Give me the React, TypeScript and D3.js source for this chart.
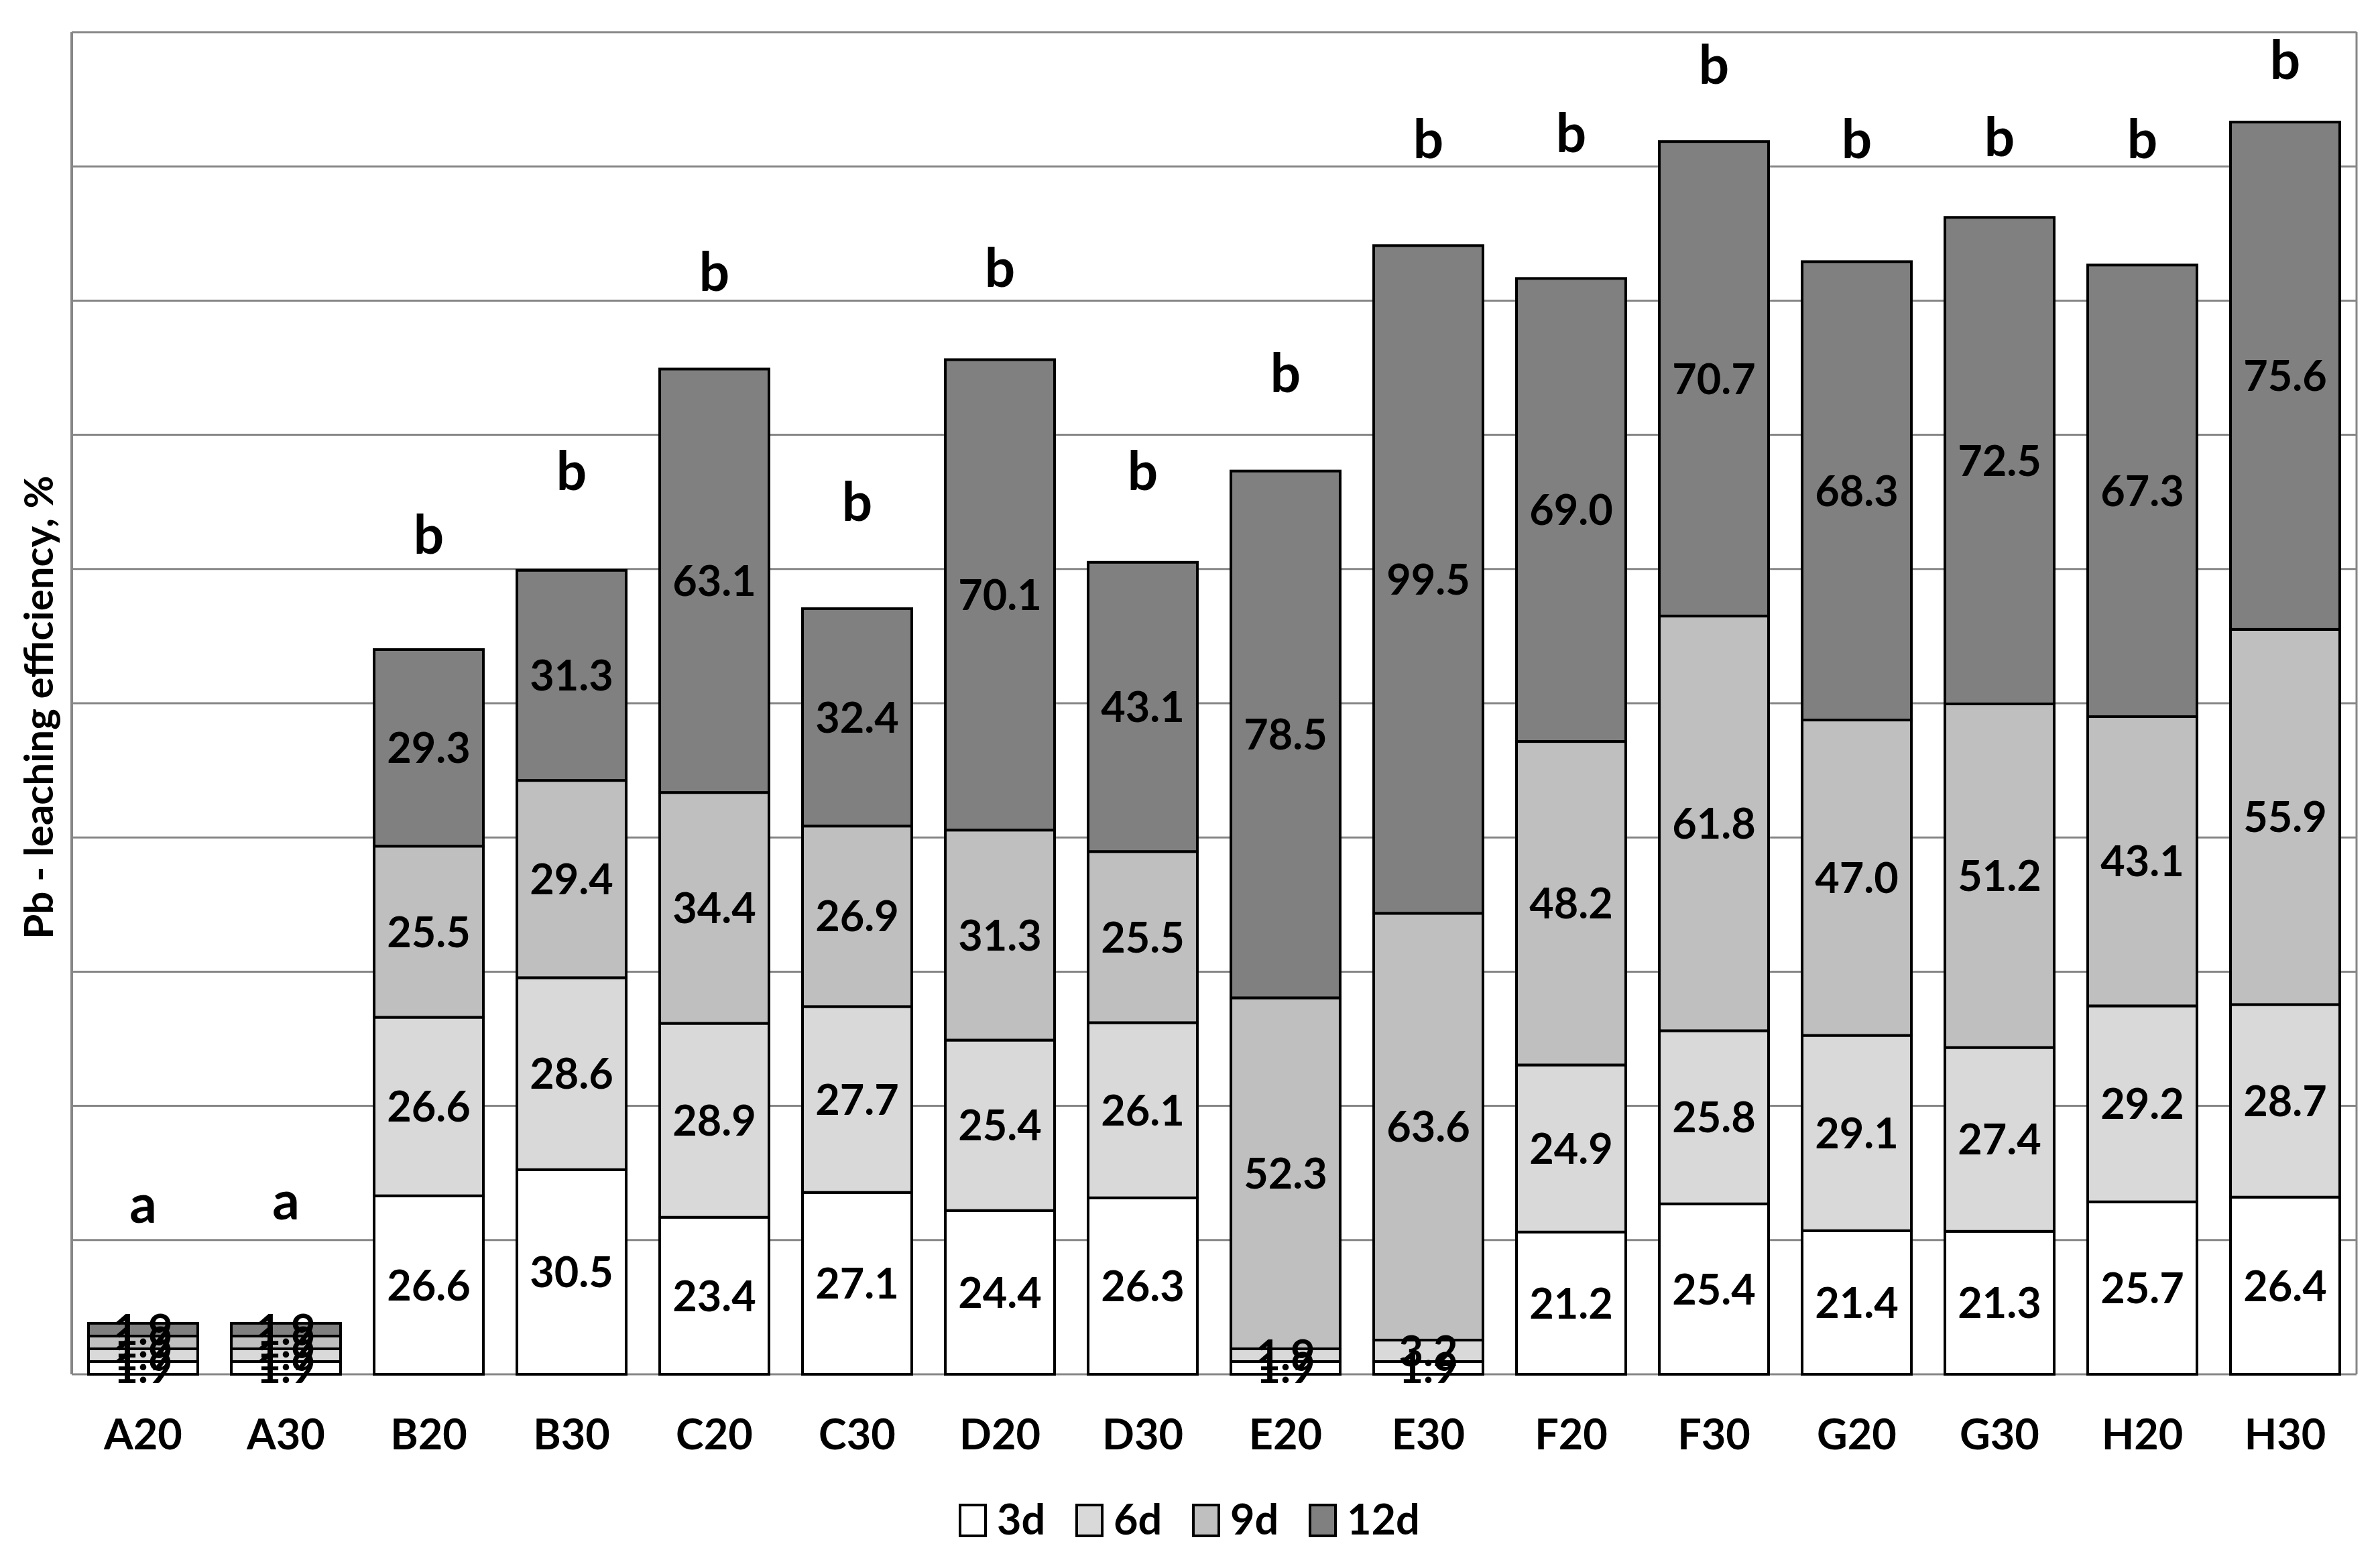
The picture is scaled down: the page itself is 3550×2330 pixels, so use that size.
import React from 'react';
import * as d3 from 'd3';

const categories = ['A20','A30','B20','B30','C20','C30','D20','D30','E20','E30','F20','F30','G20','G30','H20','H30'];
const seriesNames = ['3d','6d','9d','12d'];
const day3 = [1.9,1.9,26.6,30.5,23.4,27.1,24.4,26.3,1.9,1.9,21.2,25.4,21.4,21.3,25.7,26.4];
const day6 = [1.9,1.9,26.6,28.6,28.9,27.7,25.4,26.1,1.9,3.2,24.9,25.8,29.1,27.4,29.2,28.7];
const day9 = [1.9,1.9,25.5,29.4,34.4,26.9,31.3,25.5,52.3,63.6,48.2,61.8,47.0,51.2,43.1,55.9];
const day12 = [1.9,1.9,29.3,31.3,63.1,32.4,70.1,43.1,78.5,99.5,69.0,70.7,68.3,72.5,67.3,75.6];
const groupLetters = ['a','a','b','b','b','b','b','b','b','b','b','b','b','b','b','b'];
// letter baseline positions, in axis units
const letterLevels = [22.6,23.1,122.3,131.8,161.4,127.2,162.0,131.8,146.4,181.2,182.1,192.3,181.2,181.5,181.2,193.0];
const yTicks = [0,20,40,60,80,100,120,140,160,180,200];
const colors = ['#ffffff','#d9d9d9','#bfbfbf','#808080'];

const W = 3550, H = 2330;
const M = { left: 107, right: 3515, top: 48, bottom: 2050 };
const FONT = 'Lato, "Open Sans", sans-serif';

export default function App() {
  const rows = categories.map((c, i) => ({ cat: c, '3d': day3[i], '6d': day6[i], '9d': day9[i], '12d': day12[i] }));
  const stack = d3.stack<any>().keys(seriesNames)(rows);
  const x = d3.scaleBand().domain(categories).range([M.left, M.right]).paddingInner(0.235).paddingOuter(0.1175);
  const y = d3.scaleLinear().domain([0, 200]).range([M.bottom, M.top]);
  const legendX0 = 1432, legendStep = 174;

  return (
    <svg width={W} height={H} style={{ position: 'absolute', left: 0, top: 0, background: '#fff' }} fontFamily={FONT}>
      <rect x={0} y={0} width={W} height={H} fill="#fff" />
      {yTicks.map(t => (
        <line key={t} x1={M.left} x2={M.right} y1={y(t)} y2={y(t)} stroke="#868686" strokeWidth={3} />
      ))}
      <line x1={M.left} x2={M.left} y1={M.top} y2={M.bottom} stroke="#868686" strokeWidth={4} />
      <line x1={M.right} x2={M.right} y1={M.top} y2={M.bottom} stroke="#868686" strokeWidth={3} />
      {stack.map((s, si) => (
        <g key={s.key}>
          {s.map((d, i) => (
            <rect key={i} x={x(categories[i])} width={x.bandwidth()} y={y(d[1])} height={y(d[0]) - y(d[1])}
              fill={colors[si]} stroke="#000" strokeWidth={4} />
          ))}
        </g>
      ))}
      {stack.map((s) => (
        <g key={'l' + s.key}>
          {s.map((d, i) => (
            <text key={i} x={(x(categories[i]) as number) + x.bandwidth() / 2} y={y((d[0] + d[1]) / 2)} dy="0.36em"
              textAnchor="middle" fontSize={63} fontWeight="bold" fill="#000">
              {(d[1] - d[0]).toFixed(1)}
            </text>
          ))}
        </g>
      ))}
      {categories.map((c, i) => (
        <text key={'g' + c} x={(x(c) as number) + x.bandwidth() / 2} y={y(letterLevels[i])}
          textAnchor="middle" fontSize={80} fontWeight="bold" fill="#000">{groupLetters[i]}</text>
      ))}
      {categories.map(c => (
        <text key={'c' + c} x={(x(c) as number) + x.bandwidth() / 2} y={2162}
          textAnchor="middle" fontSize={63} fontWeight="bold" fill="#000">{c}</text>
      ))}
      <text transform={`translate(79,1055) rotate(-90)`} textAnchor="middle" fontSize={60} fontWeight="bold" fill="#000">
        Pb - leaching efficiency, %
      </text>
      {seriesNames.map((n, i) => (
        <g key={'lg' + n} transform={`translate(${legendX0 + i * legendStep},0)`}>
          <rect x={0} y={2245} width={38} height={46} fill={colors[i]} stroke="#000" strokeWidth={4} />
          <text x={55} y={2289} fontSize={63} fontWeight="bold" fill="#000">{n}</text>
        </g>
      ))}
    </svg>
  );
}
